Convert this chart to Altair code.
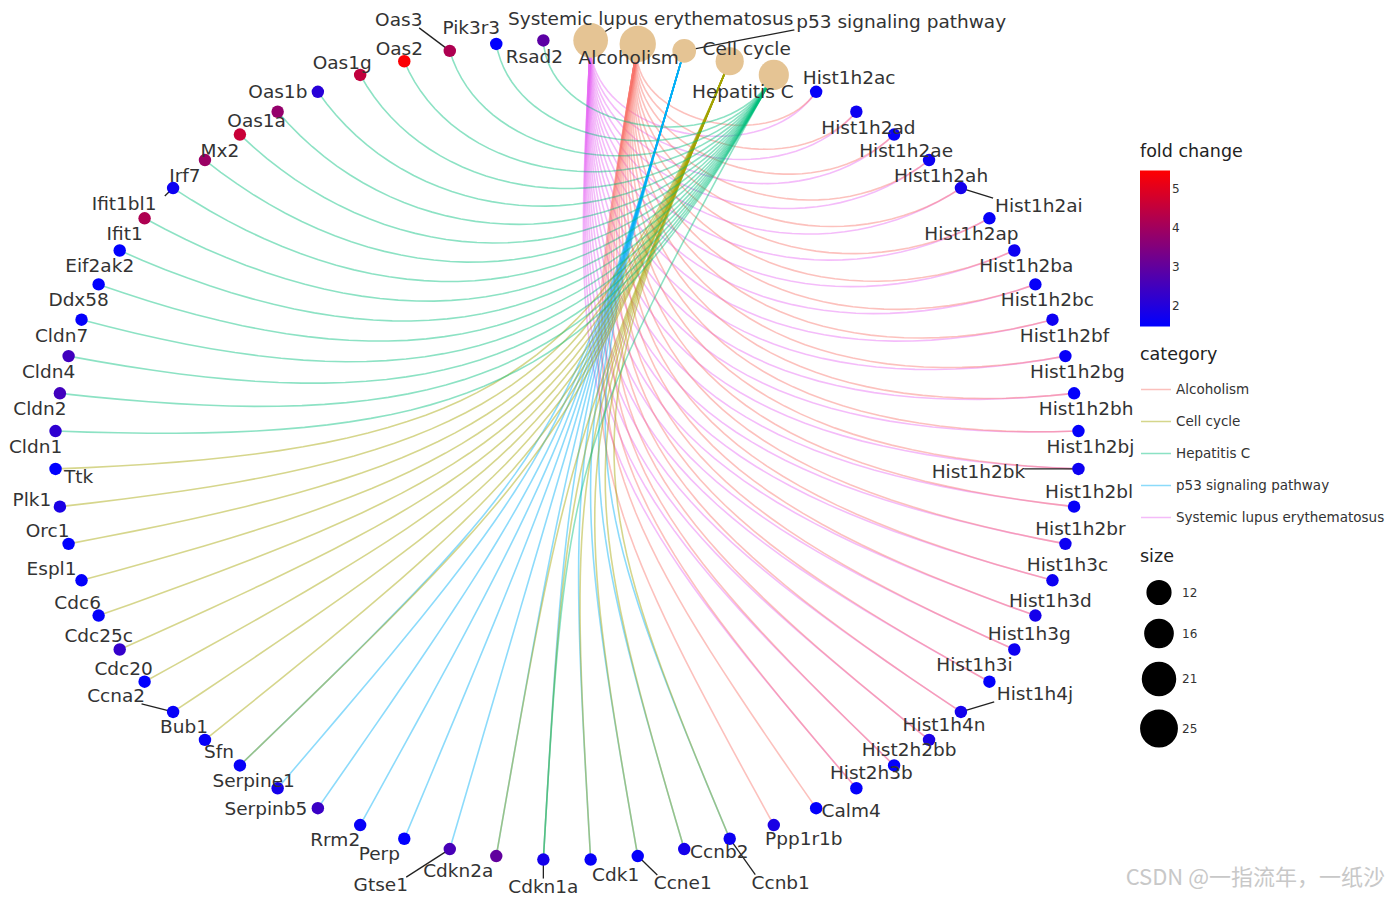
import math
import numpy as np
import pandas as pd
import altair as alt

# ---------------- data ----------------
categories = ["Systemic lupus erythematosus", "Alcoholism", "p53 signaling pathway",
              "Cell cycle", "Hepatitis C"]

genes = ["Hist1h2ac", "Hist1h2ad", "Hist1h2ae", "Hist1h2ah", "Hist1h2ai", "Hist1h2ap",
         "Hist1h2ba", "Hist1h2bc", "Hist1h2bf", "Hist1h2bg", "Hist1h2bh", "Hist1h2bj",
         "Hist1h2bk", "Hist1h2bl", "Hist1h2br", "Hist1h3c", "Hist1h3d", "Hist1h3g",
         "Hist1h3i", "Hist1h4j", "Hist1h4n", "Hist2h2bb", "Hist2h3b", "Calm4", "Ppp1r1b",
         "Ccnb1", "Ccnb2", "Ccne1", "Cdk1", "Cdkn1a", "Cdkn2a", "Gtse1", "Perp", "Rrm2",
         "Serpinb5", "Serpine1", "Sfn", "Bub1", "Ccna2", "Cdc20", "Cdc25c", "Cdc6", "Espl1",
         "Orc1", "Plk1", "Ttk", "Cldn1", "Cldn2", "Cldn4", "Cldn7", "Ddx58", "Eif2ak2",
         "Ifit1", "Ifit1bl1", "Irf7", "Mx2", "Oas1a", "Oas1b", "Oas1g", "Oas2", "Oas3",
         "Pik3r3", "Rsad2"]

fold_change = [1.6, 1.7, 1.6, 1.7, 1.8, 1.6,
               1.7, 1.6, 1.7, 1.6, 1.55, 1.55,
               1.7, 1.6, 1.7, 1.7, 1.8, 1.7,
               1.55, 1.8, 1.9, 1.55, 1.55, 1.55, 1.9,
               1.7, 1.8, 1.55, 1.6, 1.8, 3.0, 2.6, 1.5, 1.6,
               2.4, 1.8, 1.6, 1.6, 1.6, 1.5, 2.3, 1.55, 1.55,
               1.5, 1.9, 1.5, 2.2, 2.5, 2.5, 1.55, 1.5, 1.5,
               4.2, 1.7, 3.9, 4.6, 3.8, 2.1, 4.5, 5.4, 4.2,
               1.5, 2.9]

sle_genes = ["Hist1h2ac", "Hist1h2ad", "Hist1h2ae", "Hist1h2ah", "Hist1h2ai", "Hist1h2ap",
             "Hist1h2ba", "Hist1h2bc", "Hist1h2bf", "Hist1h2bg", "Hist1h2bh", "Hist1h2bj",
             "Hist1h2bk", "Hist1h2bl", "Hist1h2br", "Hist1h3c", "Hist1h3d", "Hist1h3g",
             "Hist1h3i", "Hist1h4j", "Hist1h4n", "Hist2h2bb", "Hist2h3b"]
alcoholism_genes = sle_genes + ["Calm4", "Ppp1r1b"]
p53_genes = ["Ccnb1", "Ccnb2", "Ccne1", "Cdk1", "Cdkn1a", "Cdkn2a", "Gtse1", "Perp",
             "Rrm2", "Serpinb5", "Serpine1", "Sfn"]
cellcycle_genes = ["Ccnb1", "Ccnb2", "Ccne1", "Cdk1", "Cdkn1a", "Cdkn2a", "Sfn", "Bub1",
                   "Ccna2", "Cdc20", "Cdc25c", "Cdc6", "Espl1", "Orc1", "Plk1", "Ttk"]
hepc_genes = ["Cdkn1a", "Cldn1", "Cldn2", "Cldn4", "Cldn7", "Ddx58", "Eif2ak2", "Ifit1",
              "Ifit1bl1", "Irf7", "Mx2", "Oas1a", "Oas1b", "Oas1g", "Oas2", "Oas3",
              "Pik3r3", "Rsad2"]

members = {
    "Systemic lupus erythematosus": sle_genes,
    "Alcoholism": alcoholism_genes,
    "p53 signaling pathway": p53_genes,
    "Cell cycle": cellcycle_genes,
    "Hepatitis C": hepc_genes,
}

legend_order = ["Alcoholism", "Cell cycle", "Hepatitis C", "p53 signaling pathway",
                "Systemic lupus erythematosus"]
legend_colors = ["#F8766D", "#A3A500", "#00BF7D", "#00B0F6", "#E76BF3"]

# ---------------- plot geometry (style) ----------------
W, H = 1100, 873
XD = (-1.0742, 1.0742)
YD = (-1.0659, 1.0634)
KX = W / (XD[1] - XD[0])   # px per data unit
KY = H / (YD[1] - YD[0])
FONT = 18.5
FACE = "DejaVu Sans"

# ---------------- circular layout (computed) ----------------
nodes = categories + genes
N = len(nodes)
pos = {}
for k, name in enumerate(nodes):
    t = (k + 0.5) * 2 * math.pi / N
    pos[name] = (math.sin(t), math.cos(t), math.degrees(t))

# edges: cubic bezier as in ggraph circular arcs
ts = np.linspace(0, 1, 40)
edge_rows = []
for cat in categories:
    for g in members[cat]:
        x0, y0, _ = pos[cat]
        x3, y3, _ = pos[g]
        d = math.hypot(x3 - x0, y3 - y0) / 2
        x1, y1 = x0 * (1 - d), y0 * (1 - d)
        x2, y2 = x3 * (1 - d), y3 * (1 - d)
        for i, t in enumerate(ts):
            a, b, c, e = (1 - t) ** 3, 3 * (1 - t) ** 2 * t, 3 * (1 - t) * t ** 2, t ** 3
            edge_rows.append(dict(edge=cat + "|" + g, category=cat, order=i,
                                  x=a * x0 + b * x1 + c * x2 + e * x3,
                                  y=a * y0 + b * y1 + c * y2 + e * y3))
edges = pd.DataFrame(edge_rows)

# label placement (repel-like offsets in pixels, by angular sector + a few overrides)
sector_offsets = [(92, (12, 16)), (147, (15, -15)), (170, (35, 3)), (185, (0, 27)),
                  (212, (-25, 15)), (268, (-21, -13)), (328, (-20, 16)), (361, (-18, -12))]
label_override = {
    "Hist1h2ac": (33, -14), "Hist1h2ai": (78, 18), "Hist1h2ap": (-18, 16),
    "Hist1h2bk": (-100, 3), "Hist1h3i": (-15, -17), "Hist1h4j": (74, -18),
    "Ppp1r1b": (30, 14), "Ccnb1": (51, 44), "Ccne1": (45, 27), "Cdk1": (25, 15),
    "Cdkn2a": (-38, 15), "Gtse1": (-69, 36), "Serpinb5": (-52, 1), "Serpine1": (-24, -7),
    "Ccna2": (-57, -16), "Espl1": (-30, -11), "Plk1": (-28, -7), "Ttk": (23, 8),
    "Ifit1bl1": (-49, 16), "Oas1a": (-21, 9), "Oas1b": (-40, 0), "Oas2": (-5, -12),
    "Oas3": (-51, -31), "Pik3r3": (-25, -16), "Rsad2": (-9, 17),
    "Systemic lupus erythematosus": (60, -21), "Alcoholism": (-9, 14),
    "p53 signaling pathway": (217, -29), "Cell cycle": (17, -12), "Hepatitis C": (-31, 17),
}
leaders = ["Hist1h2ai", "Hist1h2bk", "Hist1h4j", "Ccnb1", "Ccne1", "Gtse1", "Ccna2",
           "Ifit1bl1", "Oas3", "Cdkn1a", "Systemic lupus erythematosus",
           "p53 signaling pathway"]


def offset_for(name):
    if name in label_override:
        return label_override[name]
    ang = pos[name][2]
    for lim, off in sector_offsets:
        if ang < lim:
            return off
    return (0, 0)


lab_rows, lead_rows = [], []
for name in nodes:
    x, y, _ = pos[name]
    dx, dy = offset_for(name)
    lab_rows.append(dict(name=name, lx=x + dx / KX, ly=y - dy / KY))
    if name in leaders:
        hw = len(name) * 0.55 * FONT / 2
        ex = dx - math.copysign(min(abs(dx), hw), dx) if abs(dx) > hw else dx * 0.35
        ey = dy - math.copysign(min(abs(dy), 8), dy)
        lead_rows.append(dict(name=name, x=x, y=y, x2=x + ex / KX, y2=y - ey / KY))
labels = pd.DataFrame(lab_rows)
leader_df = pd.DataFrame(lead_rows)

gene_df = pd.DataFrame({
    "name": genes,
    "x": [pos[g][0] for g in genes],
    "y": [pos[g][1] for g in genes],
    "fc": fold_change,
})

cat_df = pd.DataFrame({
    "name": categories,
    "x": [pos[c][0] for c in categories],
    "y": [pos[c][1] for c in categories],
    "size": [len(members[c]) for c in categories],
    "ncol": ["#E5C494"] * len(categories),
})

# ---------------- chart ----------------
xs = alt.Scale(domain=list(XD), nice=False, zero=False)
ys = alt.Scale(domain=list(YD), nice=False, zero=False)
X = alt.X("x:Q", scale=xs, axis=None)
Y = alt.Y("y:Q", scale=ys, axis=None)

common_legend = dict(labelFontSize=13.5, titleFontSize=17.5, titleFontWeight="normal",
                     labelColor="#333333", titleColor="#222222", labelLimit=400,
                     labelFont=FACE, titleFont=FACE, titlePadding=10,
                     orient="none", legendX=W + 23)

stroke_scale = alt.Scale(domain=legend_order, range=legend_colors)
cat_legend = alt.Legend(title="category", legendY=332, symbolType="stroke",
                        symbolSize=900, symbolStrokeWidth=1.5, rowPadding=9,
                        **common_legend)

layers = []
for cat in categories:
    layers.append(
        alt.Chart(edges).transform_filter(alt.datum.category == cat)
        .mark_line(strokeWidth=1.6, opacity=0.45)
        .encode(x=X, y=Y,
                stroke=alt.Stroke("category:N", scale=stroke_scale, legend=cat_legend),
                detail="edge:N", order="order:Q")
    )

leader_layer = alt.Chart(leader_df).mark_rule(color="#222222", strokeWidth=1.3).encode(
    x=X, y=Y, x2="x2:Q", y2="y2:Q")

gene_pts = alt.Chart(gene_df).mark_circle(size=155, opacity=1).encode(
    x=X, y=Y,
    fill=alt.Fill("fc:Q",
                  scale=alt.Scale(domain=[1.49, 5.46], range=["blue", "red"],
                                  interpolate="rgb", nice=False, zero=False),
                  legend=alt.Legend(title="fold change", legendY=129,
                                    values=[2, 3, 4, 5], gradientLength=156,
                                    gradientThickness=30,
                                    **{**common_legend, "labelFontSize": 12})),
)

cat_pts = alt.Chart(cat_df).mark_circle(opacity=1).encode(
    x=X, y=Y,
    color=alt.Color("ncol:N", scale=None),
    size=alt.Size("size:Q", scale=alt.Scale(domain=[12, 25], range=[560, 1320]),
                  legend=alt.Legend(title="size", legendY=534, values=[12, 16, 21, 25],
                                    symbolFillColor="black", symbolStrokeColor="black",
                                    symbolOpacity=1, rowPadding=8,
                                    **{**common_legend, "labelFontSize": 12,
                                       "titlePadding": 14})),
)

label_layer = alt.Chart(labels).mark_text(
    fontSize=FONT, font=FACE, color="#333333", align="center",
    baseline="middle").encode(
    x=alt.X("lx:Q", scale=xs, axis=None), y=alt.Y("ly:Q", scale=ys, axis=None),
    text="name:N")

chart = alt.layer(*layers, leader_layer, gene_pts, cat_pts, label_layer).properties(
    width=W, height=H, background="white",
    padding={"left": 0, "top": 2, "right": 5, "bottom": 0},
    title=alt.TitleParams("CSDN @一指流年，一纸沙", orient="bottom", anchor="end",
                          frame="bounds", offset=-28, fontSize=22,
                          font="Noto Sans CJK SC", color="#c8c8c8",
                          fontWeight="normal"),
).configure_view(strokeWidth=0, stroke="transparent")

chart.save("out.html", embed_options={"renderer": "svg", "actions": False})
